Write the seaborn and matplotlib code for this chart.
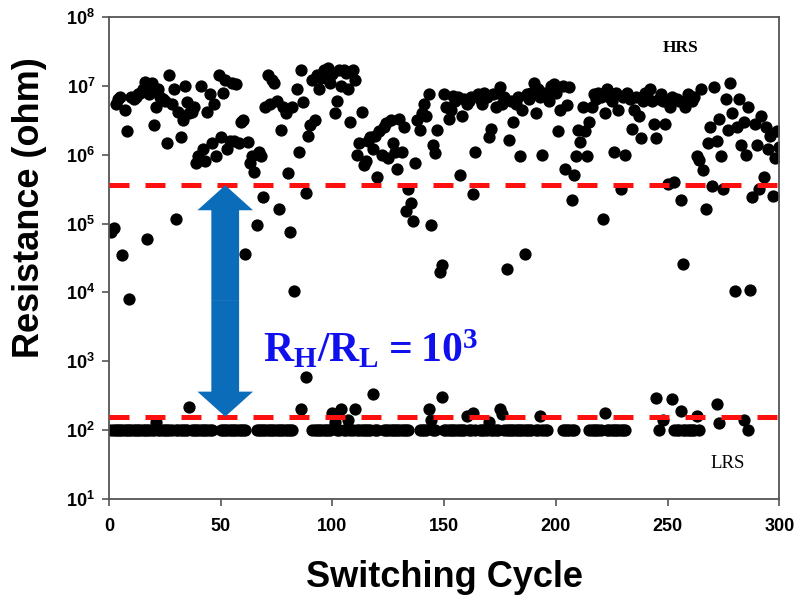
import numpy as np
import pandas as pd
import matplotlib
matplotlib.use("Agg")
import matplotlib.pyplot as plt
import seaborn as sns

nan = np.nan

# ------------------- data -------------------
cycles = list(range(1, 301))

# high resistance state, one value per cycle (ohm)
hrs_ohm = [
    7.5e4, 8.5e4, 5.5e6, 6.5e6, 7.0e6, 3.5e4, 4.5e6, 2.2e6, 8.0e3, 7.0e6,
    6.5e6, 7.0e6, 7.5e6, 8.0e6, 9.0e6, 1.15e7, 6.0e4, 7.5e6, 1.1e7, 2.7e6,
    5.0e6, 9.0e6, 7.0e6, 6.5e6, 6.0e6, 1.5e6, 1.45e7, 5.5e6, 9.0e6, 1.15e5,
    4.2e6, 1.8e6, 3.2e6, 1.0e7, 5.8e6, 4.0e6, 4.2e6, 5.0e6, 7.5e5, 9.5e5,
    1.0e7, 1.2e6, 8.0e5, 4.2e6, 7.5e6, 1.5e6, 5.5e6, 9.5e5, 1.45e7, 1.8e6,
    8.0e6, 1.2e7, 1.2e6, 1.6e6, 1.1e7, 1.6e6, 1.05e7, 1.5e6, 3.0e6, 3.2e6,
    3.6e4, 1.55e6, 7.5e5, 9.5e5, 5.7e5, 9.5e4, 1.1e6, 9.5e5, 2.4e5, 5.0e6,
    1.45e7, 5.5e6, 1.2e7, 1.1e7, 6.0e6, 1.6e5, 2.3e6, 5.0e6, 4.0e6, 5.4e5,
    7.5e4, 5.0e6, 1.05e4, 9.0e6, 1.1e6, 1.7e7, 5.8e6, 2.8e5, 1.9e6, 2.7e6,
    1.2e7, 3.2e6, 1.45e7, 9.0e6, 1.3e7, 1.7e7, 1.3e7, 1.8e7, 1.1e7, 1.5e7,
    4.0e6, 6.0e6, 1.7e7, 1.0e7, 1.7e7, 1.55e7, 9.0e6, 3.0e6, 1.7e7, 1.2e7,
    1.0e6, 1.5e6, 4.2e6, 7.0e5, 8.0e5, 1.6e6, 1.8e6, 1.2e6, 1.9e6, 4.8e5,
    2.2e6, 1.0e6, 2.5e6, 2.9e6, 9.0e5, 3.2e6, 1.5e6, 1.1e6, 6.3e5, 3.3e6,
    1.1e6, 2.5e6, 1.5e5, 3.2e5, 2.0e5, 1.1e5, 7.5e5, 3.2e6, 2.3e6, 4.0e6,
    5.5e6, 3.6e6, 7.5e6, 9.5e4, 1.4e6, 1.05e6, 2.3e6, 2.0e4, 2.5e4, 7.5e6,
    5.0e6, 3.3e6, 4.5e6, 7.2e6, 6.0e6, 7.0e6, 5.0e5, 3.6e6, 6.5e6, 5.5e6,
    6.0e6, 7.0e6, 2.7e5, 1.1e6, 7.5e6, 6.5e6, 5.5e6, 8.0e6, 7.0e6, 1.8e6,
    2.4e6, 7.5e6, 5.0e6, 8.0e6, 9.5e6, 5.5e6, 7.0e6, 2.2e4, 1.65e6, 6.0e6,
    3.0e6, 5.5e6, 7.0e6, 9.5e5, 4.5e6, 3.6e4, 7.5e6, 6.5e6, 8.0e6, 1.1e7,
    4.0e6, 9.0e6, 7.0e6, 1.0e6, 8.0e6, 7.0e6, 6.0e6, 1.0e7, 1.05e7, 8.0e6,
    2.2e6, 4.5e6, 1.0e7, 6.3e5, 5.2e6, 9.5e6, 2.2e5, 5.0e5, 9.7e5, 2.3e6,
    1.55e6, 5.0e6, 2.2e6, 9.5e5, 3.0e6, 5.0e6, 7.5e6, 6.5e6, 8.0e6, 7.0e6,
    1.15e5, 4.0e6, 9.0e6, 7.0e6, 6.0e6, 1.1e6, 8.0e6, 4.5e6, 3.2e5, 7.0e6,
    1.0e6, 8.0e6, 6.5e6, 2.4e6, 4.5e6, 7.0e6, 3.6e6, 1.75e6, 6.0e6, 8.0e6,
    7.0e6, 9.0e6, 6.0e6, 2.8e6, 1.75e6, 6.5e6, 7.5e6, 6.0e6, 2.8e6, 3.8e5,
    5.0e6, 7.0e6, 4.0e5, 6.5e6, 6.0e6, 2.2e5, 2.6e4, 5.0e6, 7.5e6, 6.5e6,
    6.0e6, 7.0e6, 9.5e5, 8.5e5, 9.0e6, 6.0e5, 1.65e5, 1.5e6, 2.5e6, 3.5e5,
    9.5e6, 1.6e6, 3.3e6, 9.5e5, 3.2e5, 6.5e6, 2.3e6, 1.1e7, 4.0e6, 1.05e4,
    2.5e6, 6.5e6, 1.4e6, 3.0e6, 1.0e6, 5.0e6, 1.1e4, 2.4e5, 2.8e6, 1.4e6,
    3.2e5, 3.6e6, 4.8e5, 2.5e6, 1.2e6, 1.9e6, 2.5e5, 9.0e5, 2.2e6, 1.3e6,
]

# low resistance state (ohm), nan where no point is visible
lrs_ohm = [
    100, 100, 100, 100, 100, 100, 100, 100, 100, 100,
    100, 100, 100, 100, 100, 100, 100, 100, 100, 100,
    133, 100, 100, 100, 100, 100, 100, 100, nan, 100,
    100, 100, 100, 100, 100, 220, 100, 100, 100, 100,
    100, 100, 100, 100, 100, 100, nan, nan, nan, 100,
    100, 100, 100, 100, 100, 100, 100, 100, 100, 100,
    100, nan, nan, nan, nan, 100, 100, 100, 100, 100,
    100, 100, 100, 100, 100, 100, 100, 100, 100, 100,
    100, 100, nan, nan, nan, 200, nan, 600, nan, nan,
    100, 100, 100, 100, 100, 100, 100, 100, 100, 180,
    130, 100, 100, 200, 100, 100, 140, 100, 100, 200,
    100, 100, 100, 100, 100, 100, 100, 340, 100, 100,
    nan, nan, 100, 100, 100, 100, 100, 100, 100, 100,
    100, 100, 100, 100, nan, nan, nan, nan, 100, 100,
    100, 100, 200, 140, 100, 100, nan, nan, 300, 100,
    100, 100, 100, 100, 100, 100, 100, 100, 100, 160,
    100, 100, 180, 100, nan, 100, 100, 100, 100, 130,
    100, 100, 100, 100, 200, 170, 100, 100, 100, 100,
    100, 100, 100, 100, 100, 100, 100, 100, 100, nan,
    100, 100, 160, 100, 100, 100, nan, nan, nan, nan,
    nan, nan, 100, 100, 100, 100, 100, 100, nan, nan,
    nan, nan, nan, nan, 100, 100, 100, 100, 100, 100,
    nan, 180, 100, 100, 100, 100, 100, 100, 100, 100,
    100, nan, nan, nan, nan, nan, nan, nan, nan, nan,
    nan, nan, nan, nan, 290, 100, nan, 140, nan, nan,
    nan, 280, 100, 100, 100, 190, 100, 100, 100, 100,
    100, 100, 160, 100, nan, nan, nan, nan, nan, nan,
    nan, 240, 125, nan, nan, nan, nan, nan, nan, nan,
    nan, nan, nan, 140, nan, 100, nan, nan, nan, nan,
    nan, nan, nan, nan, nan, nan, nan, nan, nan, nan,
]

hrs_limit = 3.6e5   # upper dashed line
lrs_limit = 1.57e2  # lower dashed line
arrow_cycle = 52

x_ticks = [0, 50, 100, 150, 200, 250, 300]
y_ticks = [1e1, 1e2, 1e3, 1e4, 1e5, 1e6, 1e7, 1e8]
y_tick_labels = [r"$\mathsf{10^{%d}}$" % k for k in range(1, 9)]

df = pd.DataFrame({
    "cycle": cycles + cycles,
    "resistance": hrs_ohm + lrs_ohm,
    "state": ["HRS"] * len(cycles) + ["LRS"] * len(cycles),
}).dropna()

# ------------------- style -------------------
sns.set_style("ticks")
plt.rcParams.update({
    "font.family": ["Liberation Sans", "DejaVu Sans"],
    "font.weight": "bold",
    "mathtext.fontset": "custom",
    "mathtext.sf": "Liberation Sans:bold",
    "mathtext.bf": "Liberation Serif:bold",
    "mathtext.rm": "Liberation Serif",
    "axes.edgecolor": "#555555",
    "axes.labelcolor": "black",
    "text.color": "black",
    "xtick.color": "#555555",
    "ytick.color": "#555555",
    "xtick.labelcolor": "black",
    "ytick.labelcolor": "black",
})

fig, ax = plt.subplots(figsize=(7.96, 5.96), dpi=100)
fig.subplots_adjust(left=0.137, right=0.979, top=0.9715, bottom=0.1628)

sns.scatterplot(data=df, x="cycle", y="resistance", color="black", s=78,
                linewidth=0, legend=False, ax=ax, zorder=2)

ax.set_yscale("log")
ax.set_xlim(0, 300)
ax.set_ylim(1e1, 1e8)
ax.set_xticks(x_ticks)
ax.set_yticks(y_ticks)
ax.set_yticklabels(y_tick_labels)
ax.minorticks_off()
ax.tick_params(axis="x", direction="out", length=5, width=1.2, labelsize=13, pad=9)
ax.tick_params(axis="y", direction="out", length=5, width=1.2, labelsize=13, pad=5)
for sp in ax.spines.values():
    sp.set_visible(True)
    sp.set_linewidth(1.3)

# threshold lines
for lim in [hrs_limit, lrs_limit]:
    ax.axhline(lim, color="#ff1010", lw=3.6, dashes=(4, 3.2), zorder=3)

# double headed arrow between the two thresholds
mid = np.sqrt(hrs_limit * lrs_limit)
for end in [hrs_limit, lrs_limit]:
    ax.annotate("", xy=(arrow_cycle, end), xytext=(arrow_cycle, mid),
                arrowprops=dict(arrowstyle="simple,head_width=40,head_length=18,tail_width=20",
                                mutation_scale=1, color="#0b6cba", lw=0,
                                shrinkA=0, shrinkB=0),
                zorder=4)

ax.text(0.23, 0.284, r"$\mathbf{R_H/R_L = 10^3}$", transform=ax.transAxes,
        ha="left", va="baseline", fontsize=30, color="#1010ee", zorder=5)
ax.text(256, 3.55e7, "HRS", ha="center", va="center", fontsize=12.5,
        fontweight="bold", family="Liberation Serif", color="black")
ax.text(276.7, 33, "LRS", ha="center", va="center", fontsize=13.5,
        fontweight="normal", family="Liberation Serif", color="black")

ax.set_xlabel("Switching Cycle", fontsize=26, fontweight="bold", color="black")
ax.set_ylabel("Resistance (ohm)", fontsize=26, fontweight="bold", color="black")
ax.xaxis.set_label_coords(0.5, -0.127)
ax.yaxis.set_label_coords(-0.093, 0.605)

plt.savefig("out.png", dpi=100)
